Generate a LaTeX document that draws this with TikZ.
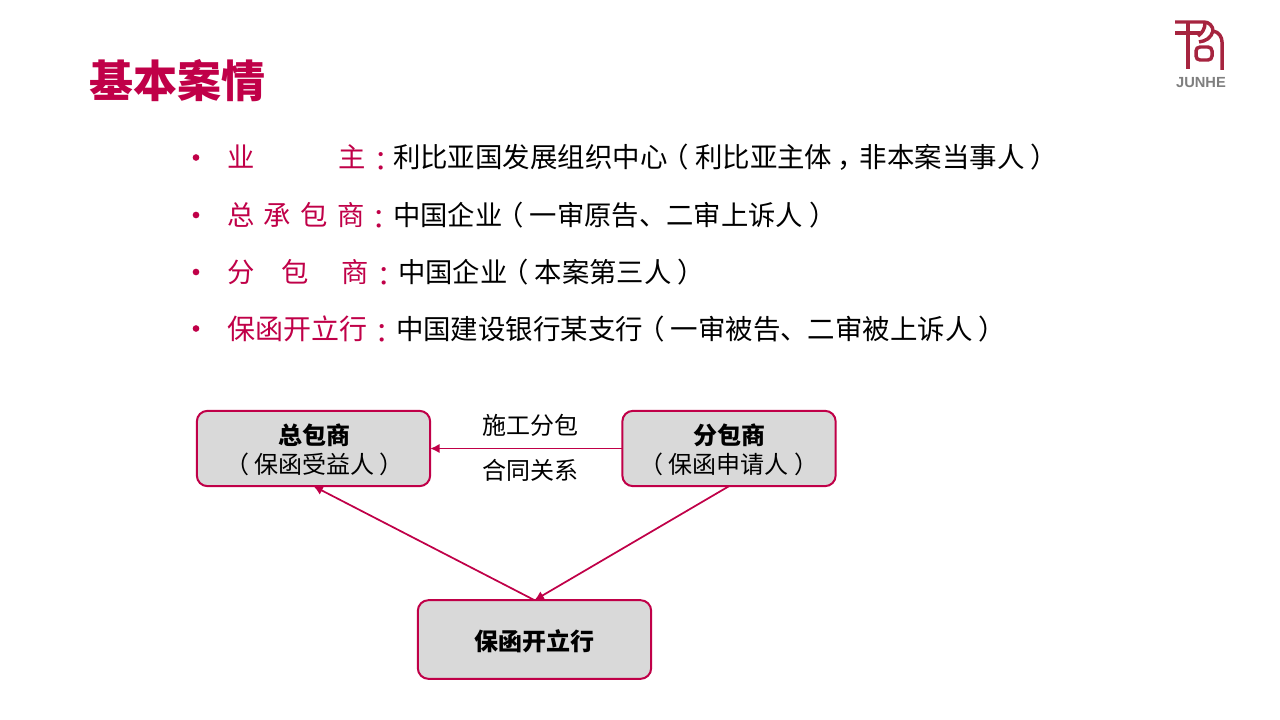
\documentclass[tikz,border=0pt]{standalone}
\usepackage{fontspec}
\setmainfont{Noto Sans CJK SC}
\newfontfamily\latinf{Liberation Sans}
\newfontfamily\tcf{Noto Sans CJK TC}
\usetikzlibrary{arrows.meta}
\definecolor{crim}{HTML}{C00048}
\definecolor{logoc}{HTML}{A6243F}
\definecolor{boxg}{HTML}{D9D9D9}
\definecolor{logog}{HTML}{7F7F7F}
\newcommand{\lpr}{\kern-.22em（\kern.22em}
\newcommand{\rpr}{\kern.22em）\kern-.22em}
\newcommand{\cmm}{\kern.2em，\kern-.2em}
\tikzset{
 every node/.style={inner sep=0pt,outer sep=0pt},
 lab/.style={anchor=base west,font=\fontsize{20.5pt}{24pt}\selectfont,text=crim},
 labw/.style={anchor=base west,font=\fontsize{21pt}{24pt}\selectfont,text=crim},
 colonm/.style={anchor=base west,font=\tcf\fontsize{20.5pt}{24pt}\selectfont,text=crim},
 txt/.style={anchor=base west,font=\fontsize{20.5pt}{24pt}\selectfont,text=black},
 txtw/.style={anchor=base west,font=\fontsize{20.6pt}{24pt}\selectfont,text=black},
 bul/.style={circle,fill=crim,minimum size=5pt},
 boxn/.style={draw=crim,line width=1.5pt,fill=boxg,rounded corners=8pt,align=center,text=black},
 captxt/.style={font=\fontsize{18pt}{21pt}\selectfont,text=black},
 capb/.style={font=\fontsize{18pt}{21pt}\selectfont\bfseries,text=black},
 conn/.style={draw=crim,line width=1.3pt,-{Latex[length=7pt,width=7pt]}},
 logol/.style={draw=logoc,line width=2.6pt,line cap=butt}
}
\begin{document}
\begin{tikzpicture}[x=0.75pt,y=-0.75pt]
\useasboundingbox (0,0) rectangle (1280,720);
\fill[white] (0,0) rectangle (1280,720);
\node[anchor=base west,font=\fontsize{33pt}{38pt}\selectfont\bfseries,text=crim] (title) at (89,98) {基本案情};
% bullets
\node[bul] (b1) at (196,157.5) {};
\node[bul] (b2) at (196,215) {};
\node[bul] (b3) at (196,272) {};
\node[bul] (b4) at (196,328.5) {};
\node[lab] (l1a) at (227,168) {业};
\node[lab] (l1b) at (338,168) {主};
\node[colonm] (l1c) at (367,172) {：};
\node[txtw] (t1) at (393,168) {利比亚国发展组织中心\lpr 利比亚主体\cmm 非本案当事人\rpr};
\node[lab] (l2a) at (227,225) {总};
\node[lab] (l2b) at (263,225) {承};
\node[lab] (l2c) at (300,225) {包};
\node[lab] (l2d) at (337,225) {商};
\node[colonm] (l2e) at (365,229) {：};
\node[txt] (t2) at (393,225) {中国企业\lpr 一审原告、二审上诉人\rpr};
\node[lab] (l3a) at (227,282) {分};
\node[lab] (l3b) at (281,282) {包};
\node[lab] (l3c) at (341,282) {商};
\node[colonm] (l3d) at (370,286) {：};
\node[txt] (t3) at (398,282) {中国企业\lpr 本案第三人\rpr};
\node[labw] (l4) at (227,339) {保函开立行};
\node[colonm] (l4b) at (368,343) {：};
\node[txtw] (t4) at (396,339) {中国建设银行某支行\lpr 一审被告、二审被上诉人\rpr};
% boxes
\node[boxn,minimum width=175pt,minimum height=56.5pt] (zong) at (313.5,448.5) {};
\node[boxn,minimum width=160pt,minimum height=56.5pt] (fen) at (729,448.5) {};
\node[boxn,minimum width=175pt,minimum height=59pt] (bao) at (534.5,639.5) {};
\node[capb] (z1) at (314.5,435) {总包商};
\node[captxt] (z2) at (314.5,464) {\lpr 保函受益人\rpr};
\node[capb] (f1) at (729,435) {分包商};
\node[captxt] (f2) at (729,464) {\lpr 保函申请人\rpr};
\node[capb] (b0) at (534,641) {保函开立行};
\node[captxt] (c1) at (530,425) {施工分包};
\node[captxt] (c2) at (530,470) {合同关系};
% connectors
\draw[conn] (fen.west) -- (zong.east);
\draw[conn] (bao.north) -- (zong.south);
\draw[conn] (fen.south) -- (bao.north);
% logo
\draw[logol] (1175,22) -- (1204,22) .. controls (1209,22) and (1213,26) .. (1213,31) .. controls (1219,32) and (1222,37) .. (1222,42) -- (1222,70);
\draw[logol] (1175,33) -- (1200,33);
\draw[logol] (1188,22) -- (1188,69);
\draw[logol] (1205,23) .. controls (1205,29) and (1202,33) .. (1198,36);
\draw[logol] (1213,31) .. controls (1211,38) and (1206,41) .. (1199,42);
\draw[logol,rounded corners=3pt] (1196,47) rectangle (1212,60);
\node[anchor=base,font=\latinf\bfseries\fontsize{11pt}{12pt}\selectfont,text=logog] (junhe) at (1201,88) {JUNHE};
\end{tikzpicture}
\end{document}
